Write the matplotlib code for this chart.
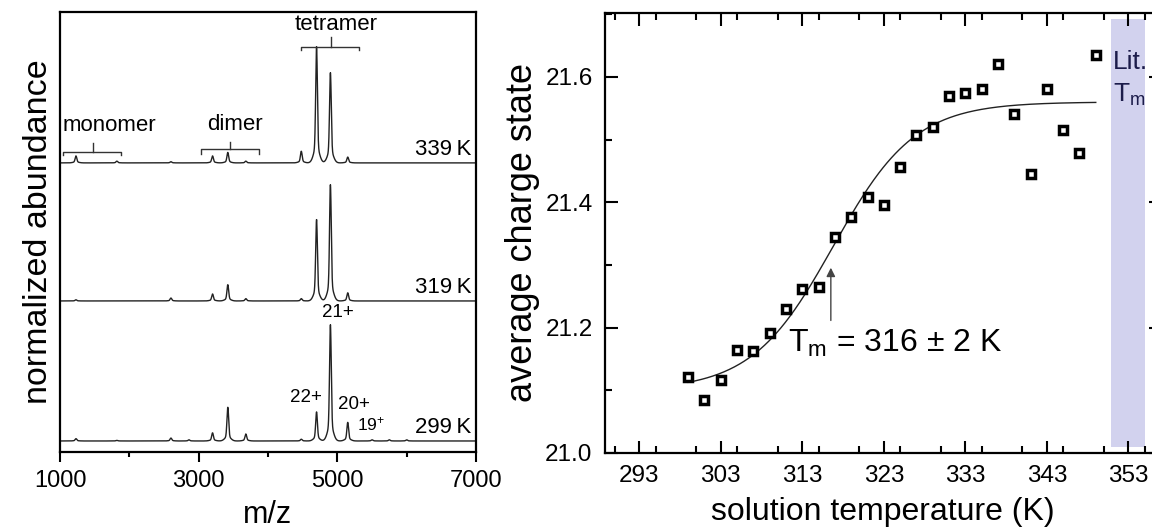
import numpy as np
import matplotlib
matplotlib.use('Agg')
import matplotlib.pyplot as plt
from matplotlib.ticker import MultipleLocator, FixedLocator

plt.rcParams['font.family'] = ['Liberation Sans', 'DejaVu Sans']
plt.rcParams['mathtext.default'] = 'regular'

# ---- left panel: mass spectra (peak centres and relative heights) ----
mz_peaks = [1230, 1820, 2600, 2860, 3200, 3420, 3680, 4480, 4700, 4900, 5150, 5500, 5750, 6000]
int_299 = [0.02, 0.005, 0.025, 0.01, 0.07, 0.29, 0.06, 0.015, 0.25, 1.0, 0.16, 0.01, 0.01, 0.01]
int_319 = [0.01, 0.0, 0.025, 0.0, 0.06, 0.14, 0.02, 0.02, 0.70, 1.0, 0.07, 0.0, 0.0, 0.0]
int_339 = [0.06, 0.015, 0.01, 0.0, 0.06, 0.09, 0.015, 0.10, 1.0, 0.776, 0.05, 0.0, 0.0, 0.0]
spec_labels = ['299\u2009K', '319\u2009K', '339\u2009K']
spec_offsets = [0.0, 1.0, 1.986]
mz_ticks = [1000, 3000, 5000, 7000]

# ---- right panel: average charge state vs temperature ----
temps = [299, 301, 303, 305, 307, 309, 311, 313, 315, 317, 319, 321, 323,
         325, 327, 329, 331, 333, 335, 337, 339, 341, 343, 345, 347, 349]
charge = [21.121, 21.085, 21.116, 21.165, 21.163, 21.191, 21.229, 21.262, 21.265,
          21.345, 21.376, 21.408, 21.396, 21.457, 21.507, 21.520, 21.570, 21.575,
          21.581, 21.621, 21.541, 21.445, 21.581, 21.516, 21.479, 21.635]
# Boltzmann fit parameters
fit_a1, fit_a2, fit_t0, fit_dx = 21.10, 21.56, 316.8, 5.0
lit_tm_band = (350.9, 355.1)

fig = plt.figure(figsize=(11.52, 5.29), dpi=100)

# ================= left panel =================
axl = fig.add_axes([0.0521, 0.1456, 0.3611, 0.8318])
mz = np.linspace(1000, 7000, 6001)
scale = 0.83
for ints, off in zip([int_299, int_319, int_339], spec_offsets):
    y = np.zeros_like(mz)
    for c, h in zip(mz_peaks, ints):
        y += h * (0.86 * np.exp(-0.5 * ((mz - c) / 12) ** 2)
                  + 0.14 * np.exp(-0.5 * ((mz - c) / 40) ** 2))
    axl.plot(mz, off + scale * y, color='#222222', lw=1.0)

for lab, off in zip(spec_labels, spec_offsets):
    axl.text(6930, off + 0.093, lab, fontsize=16, ha='right', va='center')

def bracket(ax, x0, x1, xc, yb, yend, ytop):
    ax.plot([x0, x0, x1, x1], [yend, yb, yb, yend], color='#333333', lw=1)
    ax.plot([xc, xc], [yb, ytop], color='#333333', lw=1)

bracket(axl, 1043, 1882, 1477, 2.064, 2.043, 2.129)
bracket(axl, 3039, 3877, 3458, 2.086, 2.050, 2.136)
bracket(axl, 4470, 5308, 4904, 2.814, 2.793, 2.886)
axl.text(1043, 2.25, 'monomer', fontsize=16, ha='left', va='center')
axl.text(3516, 2.257, 'dimer', fontsize=16, ha='center', va='center')
axl.text(4976, 2.971, 'tetramer', fontsize=16, ha='center', va='center')

axl.text(5005, 0.914, '21+', fontsize=13.5, ha='center', va='center')
axl.text(4542, 0.314, '22+', fontsize=13.5, ha='center', va='center')
axl.text(5236, 0.264, '20+', fontsize=13.5, ha='center', va='center')
axl.text(5482, 0.121, '19$^{+}$', fontsize=12.5, ha='center', va='center')

axl.set_xlim(1000, 7000)
axl.set_ylim(-0.0786, 3.064)
axl.set_yticks([])
axl.xaxis.set_major_locator(FixedLocator(mz_ticks))
axl.xaxis.set_minor_locator(FixedLocator([2000, 4000, 6000]))
axl.tick_params(axis='x', which='major', direction='out', length=7, width=1.5,
                labelsize=17, pad=6)
axl.tick_params(axis='x', which='minor', direction='out', length=3.5, width=1.5)
for s in axl.spines.values():
    s.set_linewidth(1.6)
axl.set_xlabel('m/z', fontsize=22, labelpad=6)
axl.set_ylabel('normalized abundance', fontsize=24.5, labelpad=4)

# ================= right panel =================
axr = fig.add_axes([0.5252, 0.1437, 0.4826, 0.8318])
axr.fill_between(lit_tm_band, 21.01, 21.692, color='#d2d2ee', lw=0, zorder=0)

tt = np.linspace(temps[0], temps[-1], 300)
fit = fit_a2 + (fit_a1 - fit_a2) / (1 + np.exp((tt - fit_t0) / fit_dx))
axr.plot(tt, fit, color='#222222', lw=1.0, zorder=2)
axr.plot(temps, charge, ls='none', marker='s', ms=6.2, mfc='white',
         mec='black', mew=2.5, zorder=3)

axr.annotate('', xy=(316.5, 21.30), xytext=(316.5, 21.207),
             arrowprops=dict(arrowstyle='-|>', color='#444444', lw=1.0,
                             mutation_scale=13))
axr.text(311.3, 21.175, 'T$_{m}$ = 316 \u00b1 2 K', fontsize=23,
         ha='left', va='center')
axr.text(351.1, 21.624, 'Lit.', fontsize=19, color='#1c1c4a',
         ha='left', va='center')
axr.text(351.1, 21.572, 'T$_{m}$', fontsize=19, color='#1c1c4a',
         ha='left', va='center')

axr.set_xlim(288.8, 357.0)
axr.set_ylim(21.0, 21.702)
axr.set_xticks(np.arange(293, 354, 10))
axr.xaxis.set_minor_locator(MultipleLocator(5))
axr.set_yticks([21.0, 21.2, 21.4, 21.6])
axr.yaxis.set_minor_locator(MultipleLocator(0.1))
axr.tick_params(which='both', direction='in', top=True, right=True, width=1.5)
axr.tick_params(which='major', length=9, labelsize=17.5, pad=9)
axr.tick_params(which='minor', length=5)
for s in axr.spines.values():
    s.set_linewidth(1.6)
axr.set_xlabel('solution temperature (K)', fontsize=23, labelpad=7)
axr.set_ylabel('average charge state', fontsize=26, labelpad=4)

fig.savefig('out.png', dpi=100, facecolor='white')
